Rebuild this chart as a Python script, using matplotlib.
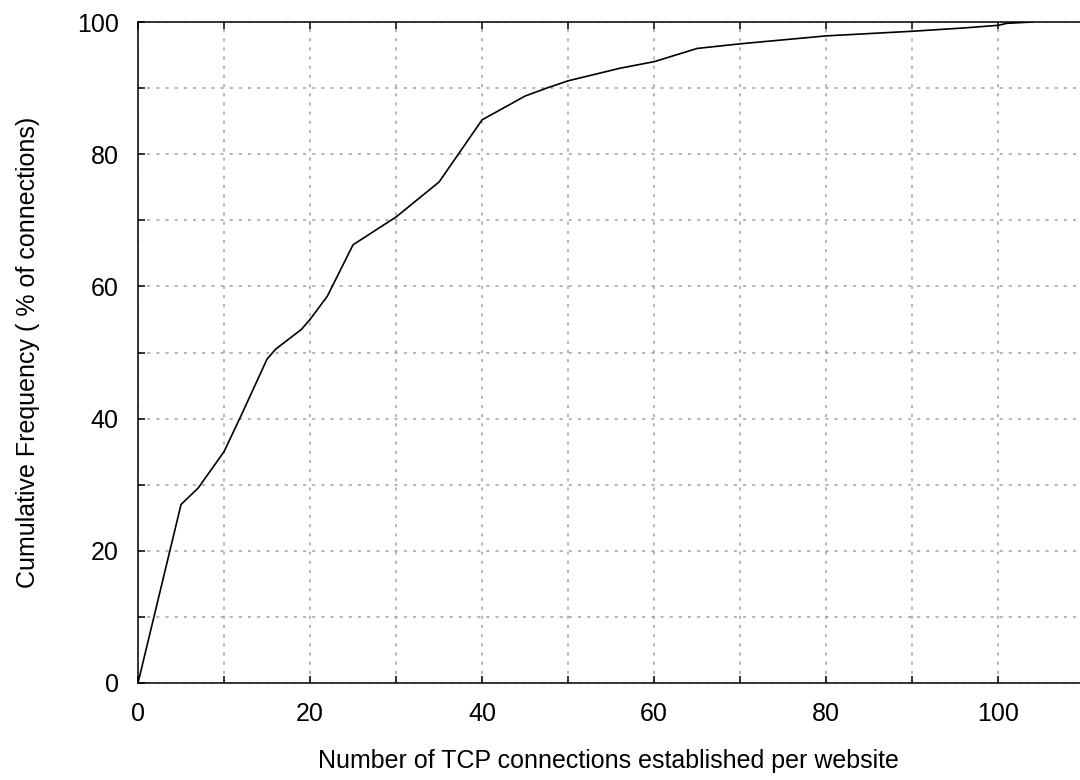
import matplotlib
matplotlib.use('Agg')
import matplotlib.pyplot as plt
from matplotlib.ticker import MultipleLocator

# ---------------------------- DATA ---------------------------- #
# connections per website vs cumulative share of connections (%)
n_connections = [0, 5, 7, 10, 12, 15, 16, 19, 20, 22, 25, 30, 35, 40,
                 45, 47.5, 50, 56, 60, 65, 70, 75, 80, 90, 96, 100, 101, 104]
cum_freq = [0, 27, 29.5, 35, 40.5, 49, 50.5, 53.5, 55, 58.5, 66.3, 70.5, 75.8, 85.2,
            88.8, 90, 91.1, 93, 94, 96, 96.7, 97.3, 97.9, 98.6, 99.1, 99.5, 99.8, 100]

x_label = 'Number of TCP connections established per website'
y_label = 'Cumulative Frequency ( % of connections)'

x_max = 109.5
y_max = 100

font_name = 'Liberation Sans'
font_size = 18
grid_color = '#a0a0a0'

# ---------------------------------------------------------------- #

plt.rcParams['font.family'] = [font_name, 'DejaVu Sans']

fig = plt.figure(figsize=(10.8, 7.8), dpi=100)
ax = fig.add_axes([138 / 1080, 1 - 683 / 780, 1 - 138 / 1080, (683 - 22) / 780])

ax.plot(n_connections, cum_freq, color='black', linewidth=1.2)

ax.set_xlim(0, x_max)
ax.set_ylim(0, y_max)

ax.xaxis.set_major_locator(MultipleLocator(20))
ax.xaxis.set_minor_locator(MultipleLocator(10))
ax.yaxis.set_major_locator(MultipleLocator(20))
ax.yaxis.set_minor_locator(MultipleLocator(10))

ax.tick_params(which='both', direction='in', length=5, width=1.1,
               top=True, right=False, labelsize=font_size, pad=14)

ax.grid(which='both', color=grid_color, linestyle=(0, (2, 4)), linewidth=1.1)
ax.set_axisbelow(True)

ax.spines['right'].set_visible(False)
for side in ['left', 'top', 'bottom']:
    ax.spines[side].set_linewidth(1.1)

ax.set_xlabel(x_label, fontsize=font_size)
ax.set_ylabel(y_label, fontsize=font_size)
ax.xaxis.set_label_coords(0.499, -0.1)
ax.yaxis.set_label_coords(-0.104, 0.5)

fig.savefig('out.png', dpi=100)
plt.close(fig)
